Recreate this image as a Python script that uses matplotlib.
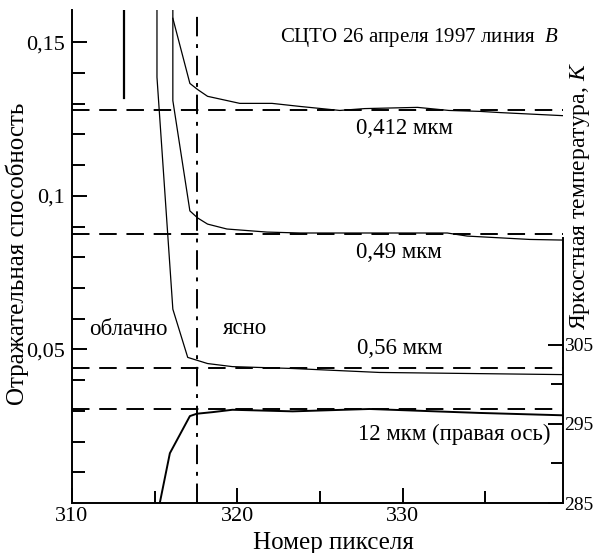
import matplotlib
matplotlib.use("Agg")
import matplotlib.pyplot as plt
from matplotlib.ticker import FixedLocator, FuncFormatter

plt.rcParams['font.family'] = ['Liberation Serif', 'DejaVu Serif']
plt.rcParams['mathtext.fontset'] = 'custom'
plt.rcParams['mathtext.rm'] = 'Liberation Serif'
plt.rcParams['mathtext.it'] = 'Liberation Serif:italic'

# ---- data ----
x_412 = [316.1, 317.13, 317.6, 318.2, 320.15, 322.1, 323.8, 326.2, 327.7, 330.9, 332.8, 334.65, 335.9, 339.7]
r_412 = [0.1578, 0.1366, 0.1346, 0.1324, 0.1301, 0.1301, 0.1291, 0.1278, 0.1284, 0.1288, 0.1278, 0.1275, 0.1271, 0.1261]

x_49 = [316.1, 316.1, 317.13, 317.6, 318.2, 319.37, 321.8, 323.8, 332.7, 333.9, 337.7, 339.7]
r_49 = [0.17, 0.1310, 0.0951, 0.0928, 0.0908, 0.0892, 0.0882, 0.0879, 0.0879, 0.0869, 0.0858, 0.0856]

x_56 = [315.14, 315.14, 316.1, 317.0, 317.6, 318.2, 319.7, 323.3, 328.6, 339.7]
r_56 = [0.17, 0.1386, 0.0631, 0.0474, 0.0464, 0.0454, 0.0444, 0.0438, 0.0425, 0.0418]

x_12 = [315.3, 315.92, 317.13, 317.55, 318.5, 319.7, 323.35, 328.0, 334.65, 339.7]
t_12 = [284.9, 291.3, 296.0, 296.3, 296.5, 296.8, 296.6, 296.9, 296.4, 296.1]

clear_412 = 0.128
clear_49 = 0.0876
clear_56 = 0.0438
clear_12 = 296.9

marker_x = 313.14
marker_y = [0.132, 0.17]
boundary_x = 317.55

x_major = [310, 320, 330]
x_minor = [315, 325, 335]
left_major = [0.05, 0.1, 0.15]
left_labels = ['0,05', '0,1', '0,15']
left_minor = [0.01, 0.02, 0.03, 0.04, 0.06, 0.07, 0.08, 0.09, 0.11, 0.12, 0.13, 0.14]
right_major = [285, 295, 305]
right_minor = [290, 300]

# ---- figure ----
fig = plt.figure(figsize=(5.96, 5.53), dpi=100)
ax = fig.add_axes([72/596, 50/553, (563-72)/596, (503-10)/553])
ax.set_xlim(310, 339.7)
ax.set_ylim(0, 0.1605)

ax.plot(x_412, r_412, color='black', lw=0.9)
ax.plot(x_49, r_49, color='black', lw=0.9)
ax.plot(x_56, r_56, color='black', lw=0.9)
ax.plot([marker_x, marker_x], marker_y, color='black', lw=1.6)

for yv in [clear_412, clear_49, clear_56]:
    ax.plot([310, 339.7], [yv, yv], color='black', lw=1.4, dashes=(9, 5))
ax.axvline(boundary_x, color='black', lw=1.4, dashes=(10, 4, 2, 4))

ax.spines['top'].set_visible(False)
ax.spines['right'].set_visible(False)
for s in ['left', 'bottom']:
    ax.spines[s].set_linewidth(1.4)

ax.xaxis.set_major_locator(FixedLocator(x_major))
ax.xaxis.set_minor_locator(FixedLocator(x_minor))
ax.yaxis.set_major_locator(FixedLocator(left_major))
ax.yaxis.set_major_formatter(FuncFormatter(
    lambda v, p: left_labels[left_major.index(round(v, 2))] if round(v, 2) in left_major else ''))
ax.yaxis.set_minor_locator(FixedLocator(left_minor))
ax.tick_params(axis='both', which='both', direction='in', width=1.4, labelsize=16)
ax.tick_params(axis='both', which='major', length=11)
ax.tick_params(axis='both', which='minor', length=9)
ax.tick_params(axis='x', pad=3)
ax.tick_params(axis='y', pad=5)

ax2 = ax.twinx()
ax2.set_ylim(285, 347.4)
ax2.plot(x_12, t_12, color='black', lw=1.4)
ax2.plot([310, 339.7], [clear_12, clear_12], color='black', lw=1.4, dashes=(9, 5))
ax2.spines['top'].set_visible(False)
ax2.spines['left'].set_visible(False)
ax2.spines['bottom'].set_visible(False)
ax2.spines['right'].set_bounds(285, 318.5)
ax2.spines['right'].set_linewidth(1.4)
ax2.yaxis.set_major_locator(FixedLocator(right_major))
ax2.yaxis.set_minor_locator(FixedLocator(right_minor))
ax2.tick_params(axis='y', which='both', direction='in', width=1.4, labelsize=14, pad=0.5)
ax2.tick_params(axis='y', which='major', length=11)
ax2.tick_params(axis='y', which='minor', length=9)

# texts
ax.text(331.0, 0.1516, 'СЦТО 26 апреля 1997 линия  $B$', ha='center', va='center', fontsize=15)
ax.text(330.1, 0.1219, '0,412 мкм', ha='center', va='center', fontsize=16.5)
ax.text(329.8, 0.0814, '0,49 мкм', ha='center', va='center', fontsize=16.5)
ax.text(329.8, 0.0503, '0,56 мкм', ha='center', va='center', fontsize=16.5)
ax.text(333.1, 0.0222, '12 мкм (правая ось)', ha='center', va='center', fontsize=16.5)
ax.text(313.4, 0.0565, 'облачно', ha='center', va='center', fontsize=16.5)
ax.text(320.45, 0.0568, 'ясно', ha='center', va='center', fontsize=16.5)

fig.text(333/596, 1-543/553, 'Номер пикселя', ha='center', va='center', fontsize=18)
fig.text(17/596, 1-254/553, 'Отражательная способность', ha='center', va='center', rotation=90, fontsize=18)
fig.text(580/596, 1-196/553, 'Яркостная температура, $K$', ha='center', va='center', rotation=90, fontsize=17)

fig.savefig('out.png', dpi=100)
